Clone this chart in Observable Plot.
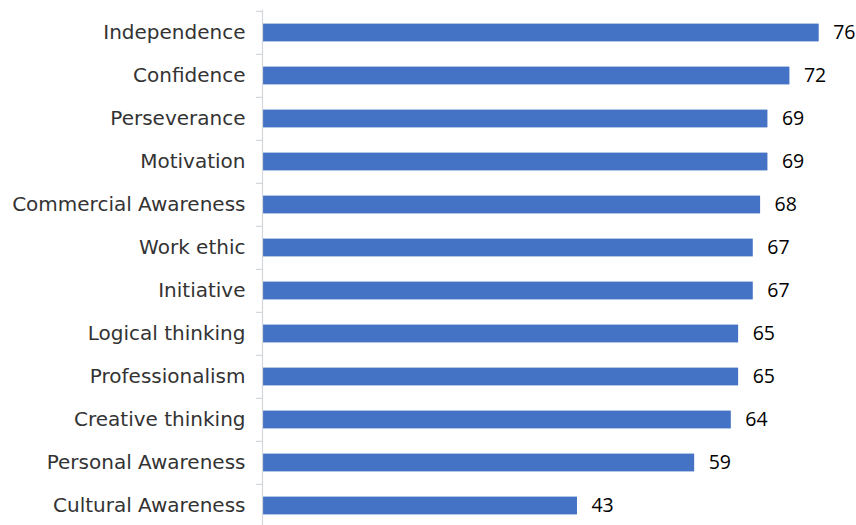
<!DOCTYPE html>
<html>
<head>
<meta charset="utf-8">
<script src="https://cdn.jsdelivr.net/npm/d3@7"></script>
<script src="https://cdn.jsdelivr.net/npm/@observablehq/plot@0.6"></script>
<style>
  html, body { margin: 0; padding: 0; background: #fff; overflow: hidden; }
</style>
</head>
<body>
<div id="chart"></div>
<script>
const categories = [
  "Independence", "Confidence", "Perseverance", "Motivation",
  "Commercial Awareness", "Work ethic", "Initiative", "Logical thinking",
  "Professionalism", "Creative thinking", "Personal Awareness", "Cultural Awareness"
];
const values = [76, 72, 69, 69, 68, 67, 67, 65, 65, 64, 59, 43];

const data = categories.map((c, i) => ({category: c, value: values[i]}));
const last = [categories[categories.length - 1]];

const chart = Plot.plot({
  width: 856,
  height: 528,
  marginLeft: 262,
  marginRight: 8,
  marginTop: 9.5,
  marginBottom: 0,
  style: {background: "#fff", overflow: "visible"},
  x: {domain: [0, 80], axis: null},
  y: {domain: categories, padding: 0, label: null},
  marks: [
    Plot.axisY({
      tickSize: 0,
      tickPadding: 17,
      fontSize: 20,
      fill: "#333",
      fontFamily: "DejaVu Sans",
      style: {letterSpacing: "0.7px"}
    }),
    Plot.barX(data, {
      y: "category", x: "value", fill: "#4472C4",
      insetTop: 12.6, insetBottom: 12.6
    }),
    Plot.ruleX([0], {stroke: "#d4d7dc", strokeWidth: 1.2}),
    Plot.ruleY(categories, {y: d => d, x1: -0.85, x2: 0, dy: -21.6, stroke: "#d4d7dc", strokeWidth: 1.2}),
    Plot.ruleY(last, {y: d => d, x1: -0.85, x2: 0, dy: 21.6, stroke: "#d4d7dc", strokeWidth: 1.2}),
    Plot.text(data, {
      y: "category", x: "value", text: d => String(d.value),
      dx: 14, textAnchor: "start", fontSize: 19.5, fill: "#000",
      fontFamily: "Open Sans"
    })
  ]
});
document.getElementById("chart").appendChild(chart);
</script>
</body>
</html>
